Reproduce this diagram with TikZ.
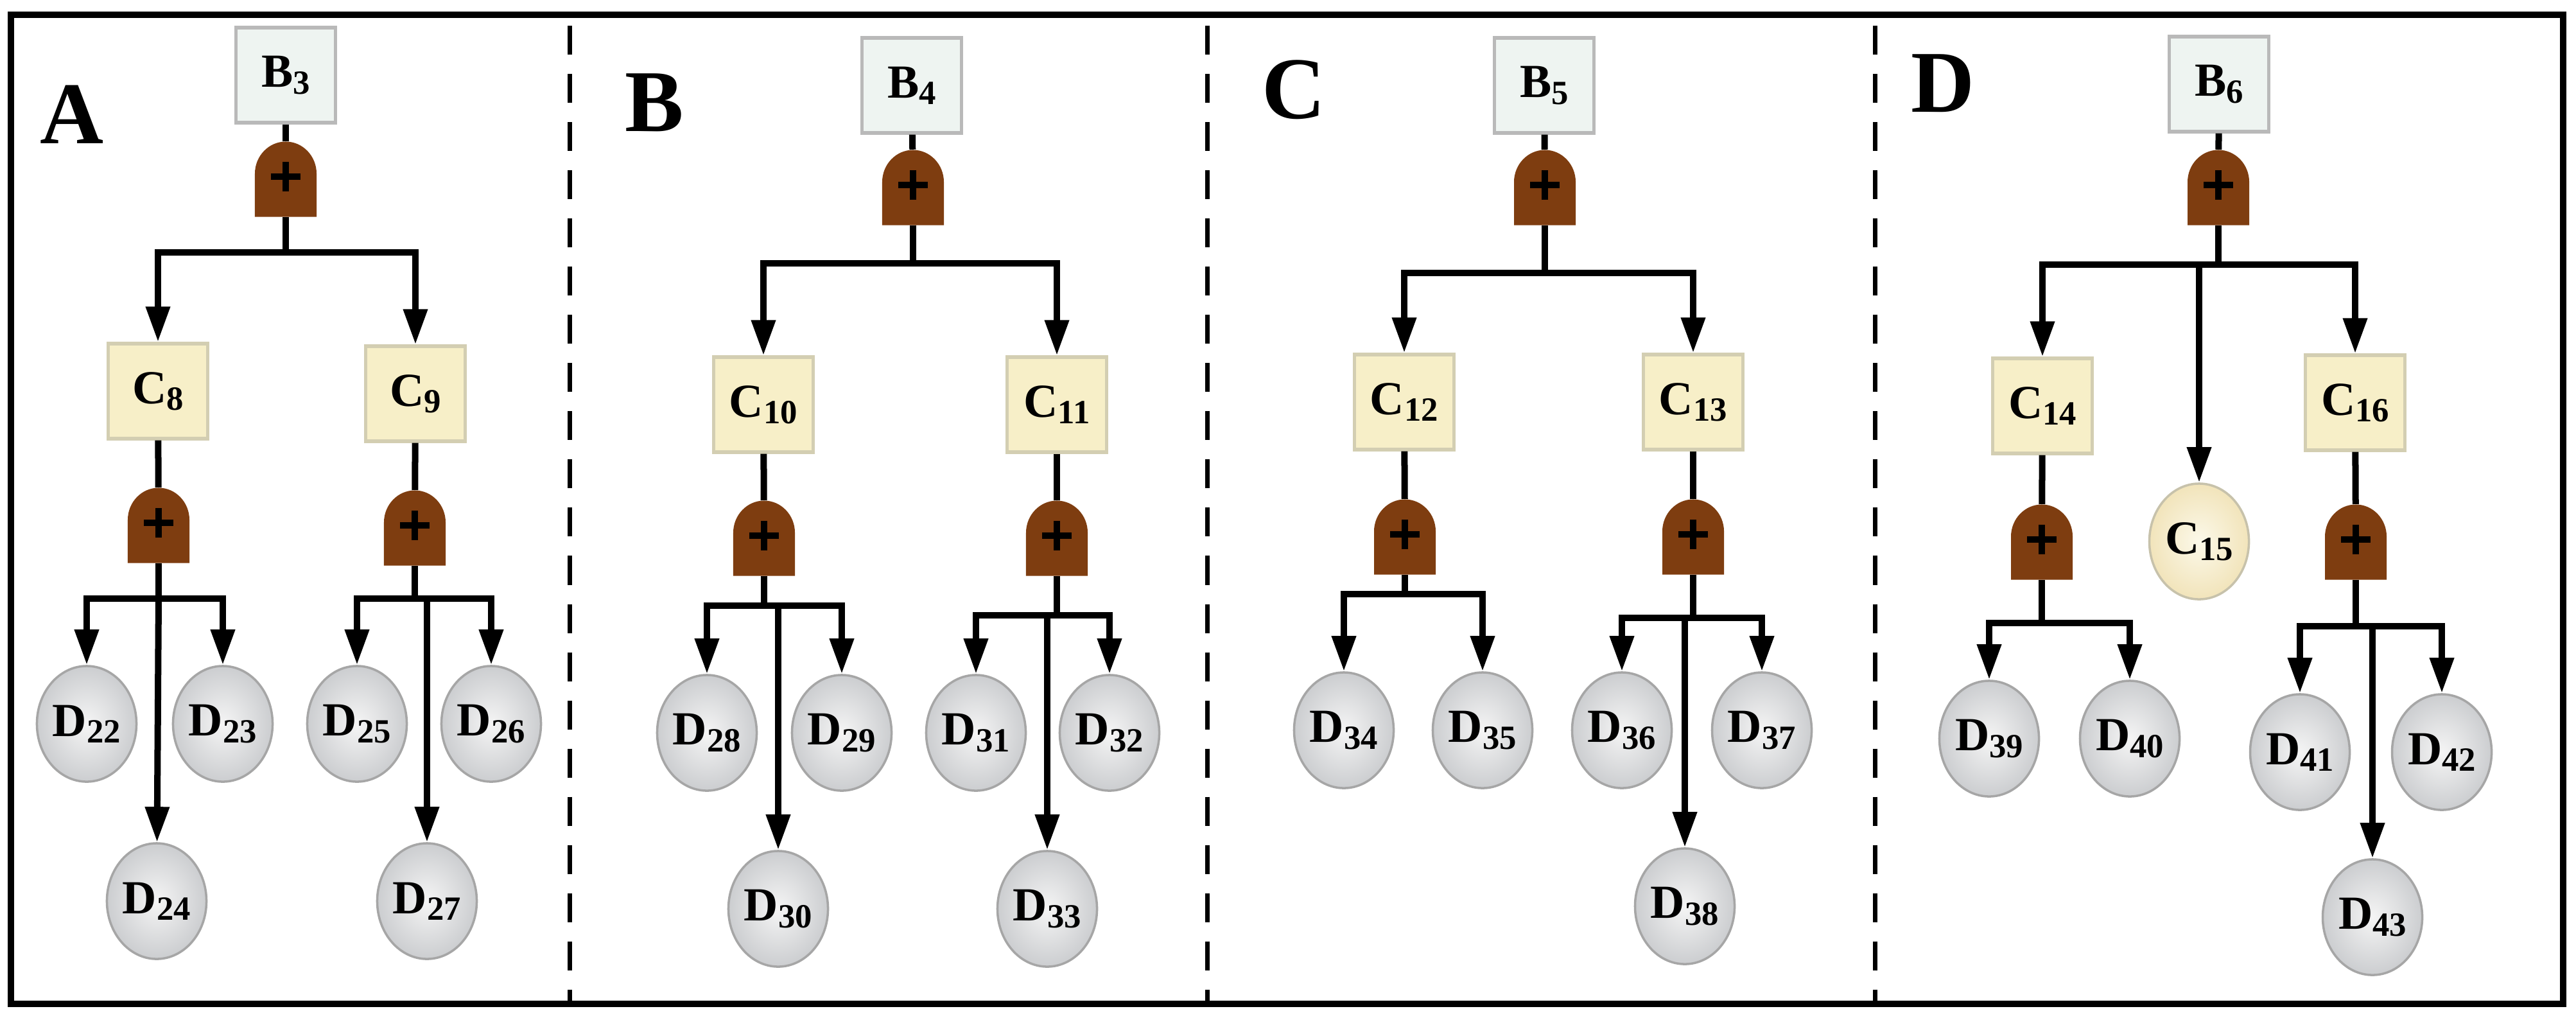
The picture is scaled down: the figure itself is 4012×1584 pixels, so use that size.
\documentclass[tikz,border=0pt]{standalone}
\usepackage{fontspec}
\setmainfont{Liberation Serif}
\usetikzlibrary{arrows.meta,shapes.geometric}
\definecolor{gatec}{HTML}{7E3D10}
\definecolor{bfill}{HTML}{EEF4F1}
\definecolor{cfill}{HTML}{F7EFC8}
\definecolor{dfill}{HTML}{D9DBDE}
\newcommand\lbl[2]{\textbf{#1\raisebox{-0.14em}{\fontsize{15pt}{15pt}\selectfont #2}}}
\tikzset{
  bbox/.style={rectangle, draw=gray!55, line width=1.5pt, fill=bfill, minimum width=1.55cm, minimum height=1.48cm, inner sep=0pt, font=\fontsize{21pt}{21pt}\selectfont},
  cbox/.style={bbox, fill=cfill, draw=cfill!70!gray},
  dell/.style={ellipse, draw=gray!70, line width=1pt, inner color=gray!8, outer color=dfill!85!gray, minimum width=1.55cm, minimum height=1.80cm, inner sep=0pt, font=\fontsize{21pt}{21pt}\selectfont},
  cell/.style={dell, inner color=cfill!40, outer color=cfill!90!brown, draw=cfill!60!gray},
  gate/.style={rectangle, minimum width=0.96cm, minimum height=1.17cm, inner sep=0pt,
    path picture={
      \fill[gatec] (path picture bounding box.south west) -- ++(0,0.67cm)
        arc[start angle=180,end angle=0,x radius=0.48cm,y radius=0.5cm] -- ++(0,-0.67cm) -- cycle;
      \draw[line width=3pt] ([yshift=0.04cm]path picture bounding box.center) ++(-0.23cm,0) -- ++(0.46cm,0);
      \draw[line width=3pt] ([yshift=0.04cm]path picture bounding box.center) ++(0,-0.23cm) -- ++(0,0.46cm);
    }},
  ln/.style={line width=0.1cm},
  arr/.style={ln, -{Triangle[width=0.36cm,length=0.55cm]}},
  plab/.style={font=\fontsize{39pt}{39pt}\selectfont\bfseries}
}
\begin{document}
\begin{tikzpicture}[x=0.01cm,y=-0.01cm]
\useasboundingbox (0,0) rectangle (4012,1584);
\fill[white] (0,0) rectangle (4012,1584);
\draw[line width=0.1cm] (17,23) rectangle (3992,1563);
\foreach \xx in {887,1880,2920}
  \draw[line width=0.07cm, dash pattern=on 0.45cm off 0.3cm] (\xx,40) -- (\xx,1560);

% ---------- Panel A
\node[plab] (LA) at (112,178) {A};
\node[bbox] (B3) at (445,117) {\lbl{B}{3}};
\node[gate] (gB3) at (445,279) {};
\coordinate (jB3) at (445,393);
\node[cbox] (C8) at (246,609) {\lbl{C}{8}};
\node[cbox] (C9) at (647,613) {\lbl{C}{9}};
\node[gate] (gC8) at (247,818) {};
\node[gate] (gC9) at (646,822) {};
\coordinate (jC8) at (247,932);
\coordinate (jC9) at (646,932);
\coordinate (kC9) at (665,932);
\node[dell] (D22) at (135,1127) {\lbl{D}{22}};
\node[dell] (D23) at (347,1127) {\lbl{D}{23}};
\node[dell] (D24) at (244,1403) {\lbl{D}{24}};
\node[dell] (D25) at (556,1127) {\lbl{D}{25}};
\node[dell] (D26) at (765,1127) {\lbl{D}{26}};
\node[dell] (D27) at (665,1403) {\lbl{D}{27}};
\draw[ln] (B3) -- (gB3); \draw[ln] (gB3) -- (jB3);
\draw[arr] (jB3) -| (C8); \draw[arr] (jB3) -| (C9);
\draw[ln] (C8) -- (gC8); \draw[ln] (gC8) -- (jC8);
\draw[ln] (C9) -- (gC9); \draw[ln] (gC9) -- (jC9);
\draw[arr] (jC8) -| (D22); \draw[arr] (jC8) -| (D23); \draw[arr] (jC8) -- (D24);
\draw[arr] (jC9) -| (D25); \draw[arr] (jC9) -| (D26); \draw[arr] (kC9) -- (D27);

% ---------- Panel B
\node[plab] (LB) at (1019,160) {B};
\node[bbox] (B4) at (1420,133) {\lbl{B}{4}};
\node[gate] (gB4) at (1422,292) {};
\coordinate (jB4) at (1422,410);
\node[cbox] (C10) at (1189,630) {\lbl{C}{10}};
\node[cbox] (C11) at (1646,630) {\lbl{C}{11}};
\node[gate] (gC10) at (1190,838) {};
\node[gate] (gC11) at (1646,838) {};
\coordinate (jC10) at (1190,943);
\coordinate (kC10) at (1212,943);
\coordinate (jC11) at (1646,958);
\coordinate (kC11) at (1631,958);
\node[dell] (D28) at (1101,1141) {\lbl{D}{28}};
\node[dell] (D29) at (1311,1141) {\lbl{D}{29}};
\node[dell] (D30) at (1212,1415) {\lbl{D}{30}};
\node[dell] (D31) at (1520,1141) {\lbl{D}{31}};
\node[dell] (D32) at (1728,1141) {\lbl{D}{32}};
\node[dell] (D33) at (1631,1415) {\lbl{D}{33}};
\draw[ln] (B4) -- (gB4); \draw[ln] (gB4) -- (jB4);
\draw[arr] (jB4) -| (C10); \draw[arr] (jB4) -| (C11);
\draw[ln] (C10) -- (gC10); \draw[ln] (gC10) -- (jC10);
\draw[ln] (C11) -- (gC11); \draw[ln] (gC11) -- (jC11);
\draw[arr] (jC10) -| (D28); \draw[arr] (jC10) -| (D29); \draw[arr] (kC10) -- (D30);
\draw[arr] (jC11) -| (D31); \draw[arr] (jC11) -| (D32); \draw[arr] (kC11) -- (D33);

% ---------- Panel C
\node[plab] (LC) at (2015,140) {C};
\node[bbox] (B5) at (2405,133) {\lbl{B}{5}};
\node[gate] (gB5) at (2406,292) {};
\coordinate (jB5) at (2406,425);
\node[cbox] (C12) at (2187,626) {\lbl{C}{12}};
\node[cbox] (C13) at (2637,626) {\lbl{C}{13}};
\node[gate] (gC12) at (2188,836) {};
\node[gate] (gC13) at (2637,836) {};
\coordinate (jC12) at (2188,925);
\coordinate (jC13) at (2637,962);
\coordinate (kC13) at (2624,962);
\node[dell] (D34) at (2093,1137) {\lbl{D}{34}};
\node[dell] (D35) at (2309,1137) {\lbl{D}{35}};
\node[dell] (D36) at (2526,1137) {\lbl{D}{36}};
\node[dell] (D37) at (2744,1137) {\lbl{D}{37}};
\node[dell] (D38) at (2624,1411) {\lbl{D}{38}};
\draw[ln] (B5) -- (gB5); \draw[ln] (gB5) -- (jB5);
\draw[arr] (jB5) -| (C12); \draw[arr] (jB5) -| (C13);
\draw[ln] (C12) -- (gC12); \draw[ln] (gC12) -- (jC12);
\draw[ln] (C13) -- (gC13); \draw[ln] (gC13) -- (jC13);
\draw[arr] (jC12) -| (D34); \draw[arr] (jC12) -| (D35);
\draw[arr] (jC13) -| (D36); \draw[arr] (jC13) -| (D37); \draw[arr] (kC13) -- (D38);

% ---------- Panel D
\node[plab] (LD) at (3026,130) {D};
\node[bbox] (B6) at (3456,131) {\lbl{B}{6}};
\node[gate] (gB6) at (3455,292) {};
\coordinate (jB6) at (3455,412);
\coordinate (kB6) at (3425,412);
\node[cbox] (C14) at (3181,632) {\lbl{C}{14}};
\node[cell] (C15) at (3425,843) {\lbl{C}{15}};
\node[cbox] (C16) at (3668,627) {\lbl{C}{16}};
\node[gate] (gC14) at (3180,844) {};
\node[gate] (gC16) at (3669,844) {};
\coordinate (jC14) at (3180,970);
\coordinate (jC16) at (3669,975);
\coordinate (kC16) at (3695,975);
\node[dell] (D39) at (3098,1150) {\lbl{D}{39}};
\node[dell] (D40) at (3317,1150) {\lbl{D}{40}};
\node[dell] (D41) at (3582,1171) {\lbl{D}{41}};
\node[dell] (D42) at (3803,1171) {\lbl{D}{42}};
\node[dell] (D43) at (3695,1428) {\lbl{D}{43}};
\draw[ln] (B6) -- (gB6); \draw[ln] (gB6) -- (jB6);
\draw[arr] (jB6) -| (C14); \draw[arr] (jB6) -| (C16); \draw[arr] (kB6) -- (C15);
\draw[ln] (C14) -- (gC14); \draw[ln] (gC14) -- (jC14);
\draw[ln] (C16) -- (gC16); \draw[ln] (gC16) -- (jC16);
\draw[arr] (jC14) -| (D39); \draw[arr] (jC14) -| (D40);
\draw[arr] (jC16) -| (D41); \draw[arr] (jC16) -| (D42); \draw[arr] (kC16) -- (D43);
\end{tikzpicture}
\end{document}
